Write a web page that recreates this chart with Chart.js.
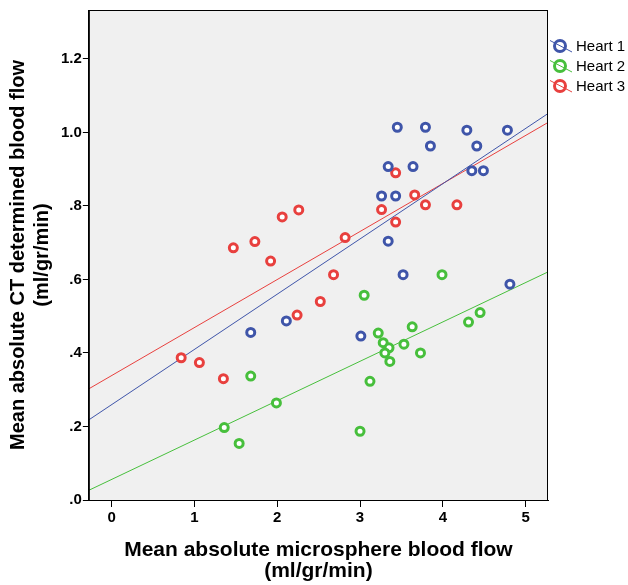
<!DOCTYPE html>
<html>
<head>
<meta charset="utf-8">
<script src="https://cdn.jsdelivr.net/npm/chart.js@4.4.1/dist/chart.umd.min.js"></script>
<style>
  html, body { margin: 0; padding: 0; background: #fff; }
</style>
</head>
<body>
<canvas id="flowChart" width="628" height="585"></canvas>
<script>
"use strict";

// values
const seriesNames = ['Heart 1', 'Heart 2', 'Heart 3'];
const seriesColors = ['#3f55a9', '#47bf3c', '#e8403e'];

const heart1X = [3.45, 3.79, 4.29, 4.78, 3.85, 4.41, 3.34, 3.64, 4.35, 4.49, 3.26, 3.43, 3.34, 3.52, 4.81, 3.01, 2.11, 1.68];
const heart1Y = [1.014, 1.014, 1.006, 1.006, 0.963, 0.963, 0.907, 0.907, 0.896, 0.896, 0.827, 0.827, 0.704, 0.613, 0.587, 0.446, 0.487, 0.456];

const heart2X = [3.99, 3.05, 4.45, 4.31, 3.22, 3.63, 3.28, 3.35, 3.53, 3.30, 3.73, 3.36, 3.12, 3.00, 1.68, 1.99, 1.36, 1.54];
const heart2Y = [0.613, 0.557, 0.510, 0.484, 0.454, 0.471, 0.428, 0.414, 0.424, 0.400, 0.400, 0.377, 0.323, 0.187, 0.337, 0.264, 0.197, 0.154];

const heart3X = [1.47, 1.73, 1.92, 2.06, 2.26, 2.82, 2.68, 2.52, 3.43, 3.66, 3.26, 3.79, 4.17, 3.43, 0.84, 1.06, 1.35, 2.24];
const heart3Y = [0.686, 0.703, 0.650, 0.770, 0.789, 0.714, 0.613, 0.540, 0.890, 0.830, 0.790, 0.803, 0.803, 0.756, 0.387, 0.374, 0.330, 0.503];

const xRange = [-0.275, 5.27];
const yRange = [0, 1.333];

const allX = [heart1X, heart2X, heart3X];
const allY = [heart1Y, heart2Y, heart3Y];

// least squares fit, as the original regression lines
function fitLine(xs, ys) {
    var n = xs.length, mx = 0, my = 0, sxx = 0, sxy = 0;
    for (var i = 0; i < n; i++) { mx += xs[i]; my += ys[i]; }
    mx /= n; my /= n;
    for (var j = 0; j < n; j++) {
        sxx += (xs[j] - mx) * (xs[j] - mx);
        sxy += (xs[j] - mx) * (ys[j] - my);
    }
    var slope = sxy / sxx;
    return { slope: slope, intercept: my - slope * mx };
}

var datasets = [];
seriesNames.forEach(function(name, i) {
    datasets.push({
        type: 'scatter',
        label: name,
        data: allX[i].map(function(x, k) { return { x: x, y: allY[i][k] }; }),
        borderColor: seriesColors[i],
        backgroundColor: '#ffffff',
        pointRadius: 4,
        pointBorderWidth: 3,
        pointHoverRadius: 4,
        order: 0
    });
});
seriesNames.forEach(function(name, i) {
    var f = fitLine(allX[i], allY[i]);
    datasets.push({
        type: 'line',
        label: '',
        data: xRange.map(function(x) { return { x: x, y: f.intercept + f.slope * x }; }),
        borderColor: seriesColors[i],
        borderWidth: 1,
        pointRadius: 0,
        fill: false,
        order: 1
    });
});

const plotBox = {
    id: 'plotBox',
    beforeDraw: function(chart) {
        var a = chart.chartArea, ctx = chart.ctx;
        ctx.save();
        ctx.fillStyle = '#f0f0f0';
        ctx.fillRect(a.left, a.top, a.right - a.left, a.bottom - a.top);
        ctx.restore();
    },
    afterDraw: function(chart) {
        var a = chart.chartArea, ctx = chart.ctx;
        ctx.save();
        ctx.strokeStyle = '#000';
        ctx.lineWidth = 1;
        ctx.strokeRect(a.left + 0.5, a.top + 0.5, a.right - a.left - 1, a.bottom - a.top);
        ctx.restore();
    }
};

const sideLegend = {
    id: 'sideLegend',
    afterDraw: function(chart) {
        var ctx = chart.ctx;
        var x0 = chart.chartArea.right + 12, y0 = 46;
        ctx.save();
        ctx.font = '15px Arial, "Liberation Sans"';
        ctx.textBaseline = 'middle';
        chart.data.datasets.forEach(function(ds, i) {
            if (ds.type !== 'scatter') return;
            var y = y0 + i * 20;
            ctx.strokeStyle = ds.borderColor;
            ctx.lineWidth = 1;
            ctx.beginPath();
            ctx.moveTo(x0 - 10, y - 5.5);
            ctx.lineTo(x0 + 12, y + 6);
            ctx.stroke();
            ctx.lineWidth = 3;
            ctx.beginPath();
            ctx.arc(x0, y, 5.5, 0, Math.PI * 2);
            ctx.stroke();
            ctx.fillStyle = '#000';
            ctx.fillText(ds.label, x0 + 16, y + 1);
        });
        ctx.restore();
    }
};

const tickFont = { family: 'Arial, "Liberation Sans"', size: 15, weight: 'bold' };

new Chart(document.getElementById('flowChart').getContext('2d'), {
    data: { datasets: datasets },
    options: {
        responsive: false,
        animation: false,
        events: [],
        layout: { padding: { left: 0, right: 80, top: 2, bottom: 0 } },
        plugins: { legend: { display: false }, tooltip: { enabled: false } },
        scales: {
            x: {
                type: 'linear',
                min: xRange[0],
                max: xRange[1],
                ticks: { stepSize: 1, includeBounds: false, color: '#000', font: tickFont, padding: 2 },
                grid: { drawOnChartArea: false, drawTicks: true, tickLength: 7, color: '#000' },
                border: { color: '#000' },
                title: {
                    display: true,
                    text: ['Mean absolute microsphere blood flow', '(ml/gr/min)'],
                    color: '#000',
                    font: { family: 'Arial, "Liberation Sans"', size: 21, weight: 'bold', lineHeight: 1.0 },
                    padding: { top: 11, bottom: 3 }
                }
            },
            y: {
                type: 'linear',
                min: yRange[0],
                max: yRange[1],
                ticks: {
                    stepSize: 0.2,
                    includeBounds: false,
                    color: '#000',
                    font: tickFont,
                    padding: 1,
                    callback: function(v) {
                        var s = v.toFixed(1);
                        return s.charAt(0) === '0' ? s.slice(1) : s;
                    }
                },
                grid: { drawOnChartArea: false, drawTicks: true, tickLength: 6, color: '#000' },
                border: { color: '#000' },
                title: {
                    display: true,
                    text: ['Mean absolute CT determined blood flow', '(ml/gr/min)'],
                    color: '#000',
                    font: { family: 'Arial, "Liberation Sans"', size: 20, weight: 'bold', lineHeight: 1.2 },
                    padding: { top: 6, bottom: 6 }
                }
            }
        }
    },
    plugins: [plotBox, sideLegend]
});
</script>
</body>
</html>
